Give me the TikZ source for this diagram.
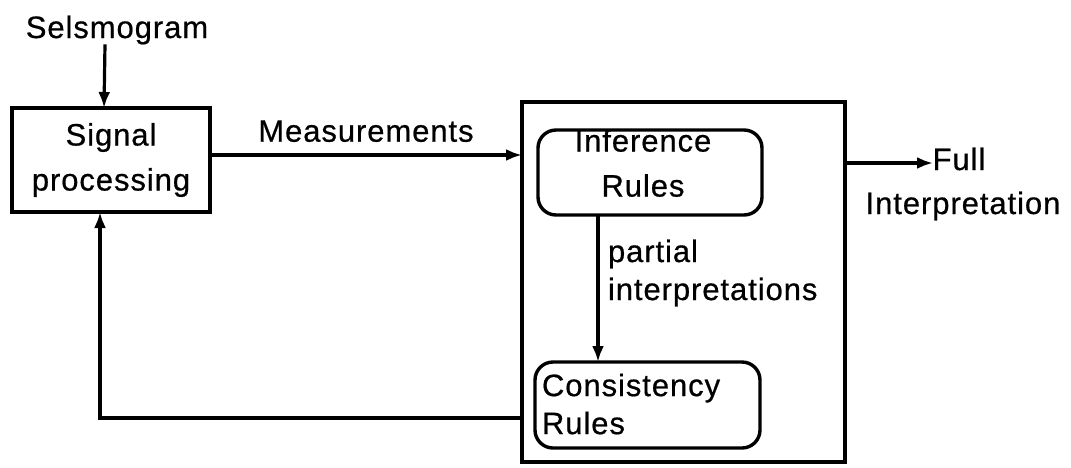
\documentclass[tikz,border=0pt]{standalone}
\usepackage{fontspec}
\setmainfont[LetterSpace=3,FakeBold=0.6]{Liberation Sans}
\usetikzlibrary{arrows.meta}
\begin{document}
\begin{tikzpicture}[x=1pt,y=-1pt,
  every node/.style={inner sep=0pt,outer sep=0pt},
  lbl/.style={font=\fontsize{31}{38}\selectfont},
  box/.style={draw,line width=3.6pt},
  rbox/.style={draw,line width=3.4pt,rounded corners=18pt},
  arr/.style={line width=3.2pt,-{Latex[length=16pt,width=12pt]}},
  wire/.style={line width=3.2pt}]
\useasboundingbox (0,0) rectangle (1071,467);

% input and front-end processing
\node[lbl] (sel) at (117,30) {Selsmogram};
\node[box,minimum width=198pt,minimum height=104pt,align=center,
      font=\fontsize{31}{45}\selectfont] (sig) at (111,160) {Signal\\processing};

% rule system
\node[box,minimum width=323pt,minimum height=360pt] (outer) at (683.5,282) {};
\node[rbox,minimum width=224pt,minimum height=85pt] (inf) at (650,172.5) {};
\node[align=center,font=\fontsize{31}{45}\selectfont] (inft) at (643,163) {Inference\\Rules};
\node[rbox,minimum width=225pt,minimum height=86pt] (cons) at (647.5,405) {};
\node[lbl,align=left,anchor=west] (const) at (542,404) {Consistency\\Rules};
\node[lbl,align=left,anchor=west] (part) at (608,273) {partial\\interpretations};

% output
\node[align=center,font=\fontsize{31}{44}\selectfont] (full) at (963,184) {\hspace*{-8pt}Full\\Interpretation};
\coordinate (fullend) at (933,163);
\coordinate (fb) at (100,418);

% connectors
\draw[arr] ([xshift=-12pt]sel.south) -- ([xshift=-7pt]sig.north);
\draw[arr] ([yshift=5pt]sig.east) -- ([yshift=5pt]sig.east -| outer.west)
  node[lbl,midway,above=13pt] (meas) {Measurements};
\draw[arr] ([xshift=-52pt]inf.south) -- ([xshift=-52pt]inf.south |- cons.north);
\draw[arr] (fullend -| outer.east) -- (fullend);
\draw[arr] (fb -| outer.west) -- (fb) -- (fb |- sig.south);
\end{tikzpicture}
\end{document}
